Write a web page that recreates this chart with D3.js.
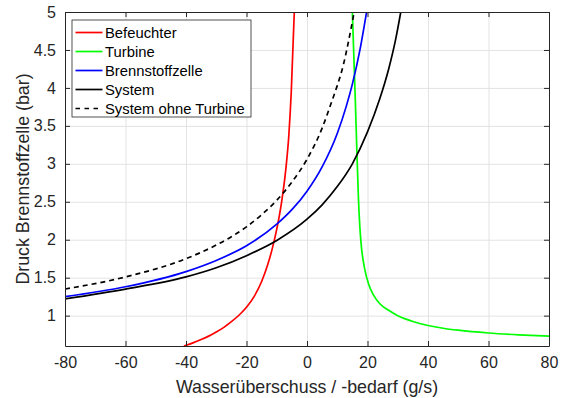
<!DOCTYPE html>
<html>
<head>
<meta charset="utf-8">
<script src="https://cdn.jsdelivr.net/npm/d3@7"></script>
<style>
  html, body { margin: 0; padding: 0; background: #fff; }
  svg { display: block; font-family: "Liberation Sans", Arial, Helvetica, sans-serif; }
  .tick text { fill: #262626; }
</style>
</head>
<body>
<svg id="chart" width="562" height="398"></svg>
<script>
// values: [Wasserüberschuss g/s, Druck bar]
const befeuchter = [[-40.7,0.6],[-37.5,0.645],[-35,0.685],[-32.5,0.73],[-30,0.785],[-27.5,0.845],[-25,0.92],
  [-22.5,1.005],[-20,1.11],[-17.5,1.25],[-15,1.45],[-13,1.67],[-11.5,1.88],[-10,2.14],[-8.5,2.47],[-7,2.93],
  [-6,3.38],[-5.2,3.95],[-4.2,5]];
const turbine = [[15,5],[15.5,4.4],[16,3.8],[16.5,3.15],[17,2.55],[17.5,2.15],[18,1.9],[19,1.63],[20.5,1.4],
  [22,1.27],[24,1.16],[27,1.07],[30,1.0],[32.5,0.957],[35,0.922],[40,0.87],[45,0.834],[50,0.808],[60,0.771],
  [70,0.747],[80,0.73]];
const brennstoffzelle = [[-80,1.25],[-60,1.38],[-40,1.58],[-30,1.727],[-20,1.92],[-10,2.205],[-5,2.396],[0,2.64],
  [5,2.96],[10,3.4],[13,3.76],[15,4.05],[17.5,4.5],[19.7,5]];
const system = [[-80,1.22],[-60,1.35],[-40,1.51],[-30,1.63],[-20,1.79],[-10,1.99],[0,2.27],[5,2.46],[10,2.7],
  [15,3.0],[20,3.42],[24,3.85],[27,4.25],[29.2,4.62],[31,5]];
const systemOhneTurbine = [[-80,1.35],[-60,1.51],[-40,1.75],[-30,1.93],[-25,2.04],[-20,2.17],[-15,2.33],
  [-10,2.52],[-5,2.76],[0,3.06],[5,3.47],[8,3.8],[10,4.03],[12,4.3],[13.5,4.57],[15.6,5]];

const xTicks = [-80, -60, -40, -20, 0, 20, 40, 60, 80];
const yTicks = [1, 1.5, 2, 2.5, 3, 3.5, 4, 4.5, 5];

const series = [
  { name: "Befeuchter", data: befeuchter, color: "#ff0000", dash: null },
  { name: "Turbine", data: turbine, color: "#00ff00", dash: null },
  { name: "Brennstoffzelle", data: brennstoffzelle, color: "#0000ff", dash: null },
  { name: "System", data: system, color: "#000000", dash: null },
  { name: "System ohne Turbine", data: systemOhneTurbine, color: "#000000", dash: "5,4" }
];

const margin = { top: 12, right: 13, bottom: 52, left: 65 };
const width = 562 - margin.left - margin.right;
const height = 398 - margin.top - margin.bottom;

const svg = d3.select("#chart");
const g = svg.append("g").attr("transform", `translate(${margin.left},${margin.top})`);

const x = d3.scaleLinear().domain([-80, 80]).range([0, width]);
const y = d3.scaleLinear().domain([0.6, 5]).range([height, 0]);

// grid
g.append("g")
  .attr("transform", `translate(0,${height})`)
  .call(d3.axisBottom(x).tickValues(xTicks).tickSize(-height).tickFormat(""))
  .call(s => s.select(".domain").remove())
  .call(s => s.selectAll("line").attr("stroke", "#e3e3e3"));
g.append("g")
  .call(d3.axisLeft(y).tickValues(yTicks).tickSize(-width).tickFormat(""))
  .call(s => s.select(".domain").remove())
  .call(s => s.selectAll("line").attr("stroke", "#e3e3e3"));

// curves
g.append("clipPath").attr("id", "clip")
  .append("rect").attr("width", width).attr("height", height);

const line = d3.line()
  .x(d => x(d[0]))
  .y(d => y(d[1]))
  .curve(d3.curveMonotoneX);

g.append("g").attr("clip-path", "url(#clip)")
  .selectAll("path")
  .data(series)
  .join("path")
  .attr("fill", "none")
  .attr("stroke", d => d.color)
  .attr("stroke-width", 1.7)
  .attr("stroke-dasharray", d => d.dash)
  .attr("d", d => line(d.data));

// axes (ticks pointing inward, box on)
const fmt = d => String(d);
const styleAxis = s => {
  s.select(".domain").attr("stroke", "#262626");
  s.selectAll(".tick line").attr("stroke", "#262626");
  s.selectAll("text").attr("font-size", 16);
};
g.append("g")
  .attr("transform", `translate(0,${height})`)
  .call(d3.axisBottom(x).tickValues(xTicks).tickSizeInner(-5).tickSizeOuter(0).tickPadding(11).tickFormat(fmt))
  .call(styleAxis);
g.append("g")
  .call(d3.axisLeft(y).tickValues(yTicks).tickSizeInner(-5).tickSizeOuter(0).tickPadding(9).tickFormat(fmt))
  .call(styleAxis);
g.append("g")
  .call(d3.axisTop(x).tickValues(xTicks).tickSizeInner(-5).tickSizeOuter(0).tickFormat(""))
  .call(styleAxis);
g.append("g")
  .attr("transform", `translate(${width},0)`)
  .call(d3.axisRight(y).tickValues(yTicks).tickSizeInner(-5).tickSizeOuter(0).tickFormat(""))
  .call(styleAxis);

// axis labels
svg.append("text")
  .attr("x", margin.left + width / 2)
  .attr("y", 393)
  .attr("text-anchor", "middle")
  .attr("font-size", 17.8)
  .attr("fill", "#262626")
  .text("Wasserüberschuss / -bedarf (g/s)");
svg.append("text")
  .attr("transform", `translate(29,${margin.top + height / 2}) rotate(-90)`)
  .attr("text-anchor", "middle")
  .attr("font-size", 17.8)
  .attr("fill", "#262626")
  .text("Druck Brennstoffzelle (bar)");

// legend
const legend = g.append("g").attr("transform", "translate(7,8)");
legend.append("rect")
  .attr("width", 179)
  .attr("height", 97)
  .attr("fill", "#fff")
  .attr("stroke", "#262626")
  .attr("stroke-width", 0.8);
const item = legend.selectAll("g.item")
  .data(series)
  .join("g")
  .attr("class", "item")
  .attr("transform", (d, i) => `translate(0,${12.5 + i * 19})`);
item.append("line")
  .attr("x1", 3.5).attr("x2", 30.5)
  .attr("stroke", d => d.color)
  .attr("stroke-width", 1.7)
  .attr("stroke-dasharray", d => d.dash ? "4.5,4.5" : null);
item.append("text")
  .attr("x", 33)
  .attr("dy", "0.35em")
  .attr("font-size", 14.8)
  .attr("fill", "#000")
  .text(d => d.name);
</script>
</body>
</html>
